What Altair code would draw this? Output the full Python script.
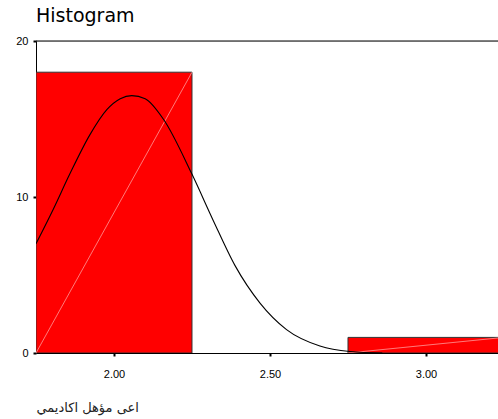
import altair as alt
import pandas as pd

# Histogram bins
bin_start = [1.75, 2.75]
bin_end = [2.25, 3.25]
counts = [18, 1]

# Normal curve
curve_x = [1.75, 1.805, 1.859, 1.923, 1.977, 2.02, 2.057, 2.10, 2.158, 2.249,
           2.318, 2.388, 2.468, 2.553, 2.66, 2.756, 2.86]
curve_y = [7.0, 9.2, 11.5, 14.0, 15.6, 16.3, 16.5, 16.3, 15.0, 11.5,
           8.5, 5.6, 3.2, 1.5, 0.45, 0.1, 0.0]

x_ticks = [2.0, 2.5, 3.0]
y_ticks = [0, 10, 20]
x_title = "اعى مؤهل اكاديمي"
title_text = "Histogram"

W, H = 462, 312
x_domain = [1.75, 3.2308]

bars = pd.DataFrame({"x0": bin_start, "x1": bin_end, "n": counts, "zero": [0, 0]})
curve = pd.DataFrame({"x": curve_x, "y": curve_y})

xs = alt.Scale(domain=x_domain, nice=False, zero=False)
ys = alt.Scale(domain=[0, 20], nice=False)

x_axis = alt.Axis(values=x_ticks, format=".2f", title=x_title, grid=False,
                  labelFont="Liberation Sans", labelFontSize=11, labelColor="#000",
                  labelPadding=12, tickSize=3, tickWidth=2, tickColor="#000",
                  domainColor="#000", domainWidth=1,
                  titleFont="DejaVu Sans", titleFontSize=13, titleFontWeight="normal",
                  titleColor="#222", titleAnchor="start", titleAlign="left",
                  titleX=0, titleY=58, titleBaseline="alphabetic")
y_axis = alt.Axis(values=y_ticks, title=None, grid=False,
                  labelFont="Liberation Sans", labelFontSize=11, labelColor="#000",
                  labelPadding=5, tickSize=3, tickWidth=2, tickColor="#000",
                  domainColor="#000", domainWidth=1)

bar_layer = alt.Chart(bars).mark_rect(color="#FF0000", stroke="#333333",
                                      strokeWidth=1, clip=True).encode(
    x=alt.X("x0:Q", scale=xs, axis=x_axis),
    x2="x1:Q",
    y=alt.Y("n:Q", scale=ys, axis=y_axis),
    y2="zero:Q",
)

diag = alt.Chart(bars).mark_rule(color="#FF9999", strokeWidth=0.8, clip=True).encode(
    x=alt.X("x0:Q", scale=xs),
    x2="x1:Q",
    y=alt.Y("zero:Q", scale=ys),
    y2="n:Q",
)

line = alt.Chart(curve).mark_line(color="#000", strokeWidth=1.1,
                                  interpolate="monotone", clip=True).encode(
    x=alt.X("x:Q", scale=xs),
    y=alt.Y("y:Q", scale=ys),
)

top = alt.Chart(pd.DataFrame({"y": [20]})).mark_rule(color="#000", strokeWidth=1).encode(
    y=alt.Y("y:Q", scale=ys),
    x=alt.value(0),
    x2=alt.value(W),
)

chart = alt.layer(bar_layer, diag, line, top).properties(
    width=W, height=H,
    autosize=alt.AutoSizeParams(type="none"),
    padding={"left": 36, "top": 41, "right": 0, "bottom": 66},
    title=alt.TitleParams(title_text, anchor="start", frame="group", font="DejaVu Sans",
                          fontSize=19, fontWeight="normal", color="#000",
                          baseline="alphabetic", offset=2, dy=8),
).configure_view(stroke=None).configure(background="white")

chart.save("out.html", embed_options={"renderer": "svg", "actions": False})
